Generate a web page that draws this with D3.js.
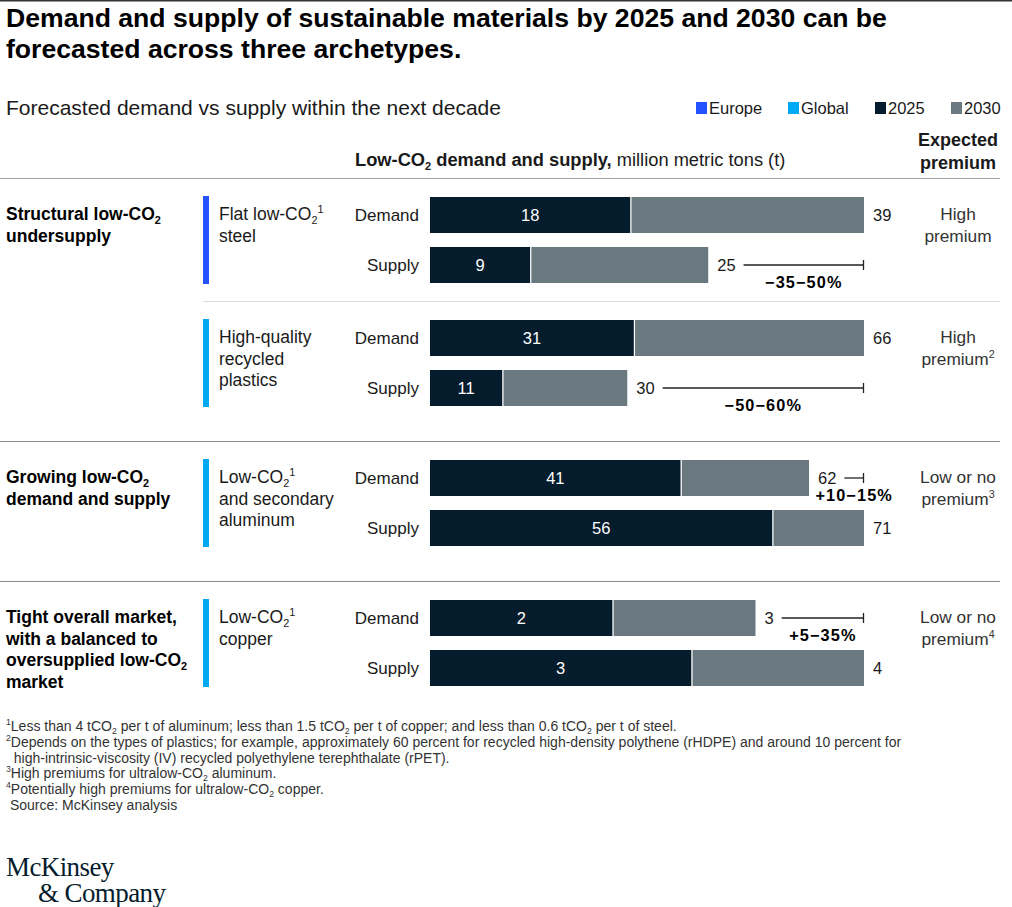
<!DOCTYPE html>
<html><head><meta charset="utf-8">
<script src="https://cdn.jsdelivr.net/npm/d3@7"></script>
<style>
body{margin:0;background:#fff;}
svg text{font-family:"Liberation Sans",Arial,sans-serif;}
svg text.logo{font-family:"Liberation Serif","DejaVu Serif",serif;}
</style></head>
<body><svg id="c" width="1012" height="907"></svg>
<script>
// ---- data ----
const groups = ["Structural low-CO_2 undersupply", "Growing low-CO_2 demand and supply", "Tight overall market, with a balanced to oversupplied low-CO_2 market"];
const groupLines = [["Structural low-CO_2","undersupply"],["Growing low-CO_2","demand and supply"],["Tight overall market,","with a balanced to","oversupplied low-CO_2","market"]];
const materials = ["Flat low-CO_2^1 steel","High-quality recycled plastics","Low-CO_2^1 and secondary aluminum","Low-CO_2^1 copper"];
const materialLines = [["Flat low-CO_2^1","steel"],["High-quality","recycled","plastics"],["Low-CO_2^1","and secondary","aluminum"],["Low-CO_2^1","copper"]];
const materialRegion = ["Europe","Global","Global","Global"];
const rows = ["Demand","Supply"];
const demand2025 = [18, 31, 41, 1.85];
const demand2030 = [39, 66, 62, 3.3];
const supply2025 = [9, 11, 56, 2.65];
const supply2030 = [25, 30, 71, 4.4];
const gapLabels = ["\u221235\u221250%","\u221250\u221260%","+10\u221215%","+5\u221235%"];
const premiumLines = [["High","premium"],["High","premium^2"],["Low or no","premium^3"],["Low or no","premium^4"]];
const legendKeys = ["Europe","Global","2025","2030"];
const footnotes = [
 "^1Less than 4 tCO_2 per t of aluminum; less than 1.5 tCO_2 per t of copper; and less than 0.6 tCO_2 per t of steel.",
 "^2Depends on the types of plastics; for example, approximately 60 percent for recycled high-density polythene (rHDPE) and around 10 percent for",
 "\u00A0 high-intrinsic-viscosity (IV) recycled polyethylene terephthalate (rPET).",
 "^3High premiums for ultralow-CO_2 aluminum.",
 "^4Potentially high premiums for ultralow-CO_2 copper.",
 "\u00A0Source: McKinsey analysis"];

// ---- style ----
const colors = {Europe:"#2251FF", Global:"#00A9F4", "2025":"#051C2C", "2030":"#6A7880"};
const textCol = "#1a1a1a";
const svg = d3.select("#c");

function rich(sel, str, size){
  const parts = str.split(/(_\d|\^\d)/).filter(s=>s!=="");
  parts.forEach(p=>{
    if(p[0]==="_") sel.append("tspan").attr("font-size",size*0.62).attr("baseline-shift",-size*0.2).text(p.slice(1));
    else if(p[0]==="^") sel.append("tspan").attr("font-size",size*0.62).attr("baseline-shift",size*0.4).text(p.slice(1));
    else sel.append("tspan").text(p);
  });
  return sel;
}

// top rule
svg.append("rect").attr("x",0).attr("y",0).attr("width",1012).attr("height",1.5).attr("fill","#333");

// title
["Demand and supply of sustainable materials by 2025 and 2030 can be","forecasted across three archetypes."].forEach((t,i)=>{
  svg.append("text").attr("x",6).attr("y",27+i*31).attr("font-size",26.6).attr("font-weight","bold").attr("fill","#000").text(t);
});
svg.append("text").attr("x",6).attr("y",115).attr("font-size",21).attr("fill",textCol).text("Forecasted demand vs supply within the next decade");

// legend
const lgX = [696,788,875,951];
legendKeys.forEach((k,i)=>{
  svg.append("rect").attr("x",lgX[i]).attr("y",102).attr("width",11).attr("height",12).attr("fill",colors[k]);
  svg.append("text").attr("x",lgX[i]+13).attr("y",114).attr("font-size",16.5).attr("fill",textCol).text(k);
});

// column headers
const hdr = svg.append("text").attr("x",355).attr("y",166).attr("font-size",18.3).attr("fill",textCol);
hdr.append("tspan").attr("font-weight","bold").text("Low-CO");
hdr.append("tspan").attr("font-weight","bold").attr("font-size",11).attr("baseline-shift",-3.5).text("2");
hdr.append("tspan").attr("font-weight","bold").text(" demand and supply,");
hdr.append("tspan").text(" million metric tons (t)");
["Expected","premium"].forEach((t,i)=>svg.append("text").attr("x",958).attr("y",146+i*23).attr("text-anchor","middle")
  .attr("font-size",18).attr("font-weight","bold").attr("fill",textCol).text(t));

// rules
svg.append("line").attr("x1",0).attr("x2",1000).attr("y1",178.5).attr("y2",178.5).attr("stroke","#a0a0a0");
svg.append("line").attr("x1",203).attr("x2",1000).attr("y1",301.5).attr("y2",301.5).attr("stroke","#dcdcdc");
svg.append("line").attr("x1",0).attr("x2",1000).attr("y1",441.5).attr("y2",441.5).attr("stroke","#8a8a8a");
svg.append("line").attr("x1",0).attr("x2",1000).attr("y1",581.5).attr("y2",581.5).attr("stroke","#8a8a8a");

const blockTop = [178,301,441,581];
const groupTop = [178,441,581];

groupLines.forEach((lines,g)=>{
  lines.forEach((l,i)=>{
    const t = svg.append("text").attr("x",6).attr("y",groupTop[g]+42+i*21.5).attr("font-size",17.5).attr("font-weight","bold").attr("fill","#000");
    rich(t,l,17.5);
  });
});

const X0 = 430, X1 = 864;
const yRow = d3.scaleBand().domain(rows).range([19,105]).paddingInner(0.28);

materials.forEach((m,i)=>{
  const top = blockTop[i];
  const vals = {Demand:[demand2025[i],demand2030[i]], Supply:[supply2025[i],supply2030[i]]};
  const x = d3.scaleLinear().domain([0, d3.max([demand2030[i],supply2030[i]])]).range([X0,X1]);
  const fmt = d3.format(".0f");
  svg.append("rect").attr("x",203).attr("y",top+yRow("Demand")-1).attr("width",6)
    .attr("height",yRow("Supply")+yRow.bandwidth()-yRow("Demand")+2).attr("fill",colors[materialRegion[i]]);
  materialLines[i].forEach((l,j)=>{
    const t = svg.append("text").attr("x",219).attr("y",top+42+j*21.5).attr("font-size",17.5).attr("fill",textCol);
    rich(t,l,17.5);
  });
  let endX = {};
  rows.forEach(r=>{
    const y = top + yRow(r), h = yRow.bandwidth();
    const [a,b] = vals[r];
    svg.append("text").attr("x",419).attr("y",y+h/2+6).attr("text-anchor","end").attr("font-size",17).attr("fill",textCol).text(r);
    svg.append("rect").attr("x",x(0)).attr("y",y).attr("width",x(b)-x(0)).attr("height",h).attr("fill",colors["2030"]);
    svg.append("rect").attr("x",x(0)).attr("y",y).attr("width",x(a)-x(0)).attr("height",h).attr("fill",colors["2025"]);
    svg.append("rect").attr("x",x(a)).attr("y",y).attr("width",1.2).attr("height",h).attr("fill","#fff");
    svg.append("text").attr("x",(x(0)+x(a))/2).attr("y",y+h/2+6).attr("text-anchor","middle").attr("font-size",16.5).attr("fill","#fff").text(fmt(a));
    const lab = svg.append("text").attr("x",x(b)+9).attr("y",y+h/2+6).attr("font-size",16.5).attr("fill",textCol).text(fmt(b));
    endX[r] = x(b)+9+lab.node().getComputedTextLength();
  });
  const shortRow = vals.Demand[1] < vals.Supply[1] ? "Demand" : "Supply";
  const ly = top + yRow(shortRow) + yRow.bandwidth()/2;
  const lx0 = endX[shortRow] + 8;
  svg.append("line").attr("x1",lx0).attr("x2",X1).attr("y1",ly).attr("y2",ly).attr("stroke","#222").attr("stroke-width",1.3);
  svg.append("line").attr("x1",X1-0.5).attr("x2",X1-0.5).attr("y1",ly-5).attr("y2",ly+5).attr("stroke","#222").attr("stroke-width",1.3);
  svg.append("text").attr("x",(lx0+X1)/2).attr("y",ly+22.5).attr("text-anchor","middle").attr("font-size",16.3).attr("letter-spacing",1.1)
    .attr("font-weight","bold").attr("fill","#000").text(gapLabels[i]);
  premiumLines[i].forEach((l,j)=>{
    const t = svg.append("text").attr("x",958).attr("y",top+42+j*21.5).attr("text-anchor","middle").attr("font-size",17.3).attr("fill","#333");
    rich(t,l,17.3);
  });
});

const fy = [731,747,763,778,794,810];
footnotes.forEach((f,i)=>{
  const t = svg.append("text").attr("x",6).attr("y",fy[i]).attr("font-size",14).attr("fill","#333");
  rich(t,f,14);
});

svg.append("text").attr("class","logo").attr("x",6).attr("y",876).attr("font-size",27).attr("fill","#051C2C").attr("letter-spacing",-0.6).text("McKinsey");
svg.append("text").attr("class","logo").attr("x",38).attr("y",902).attr("font-size",27).attr("fill","#051C2C").attr("letter-spacing",-0.6).text("& Company");
</script></body></html>
